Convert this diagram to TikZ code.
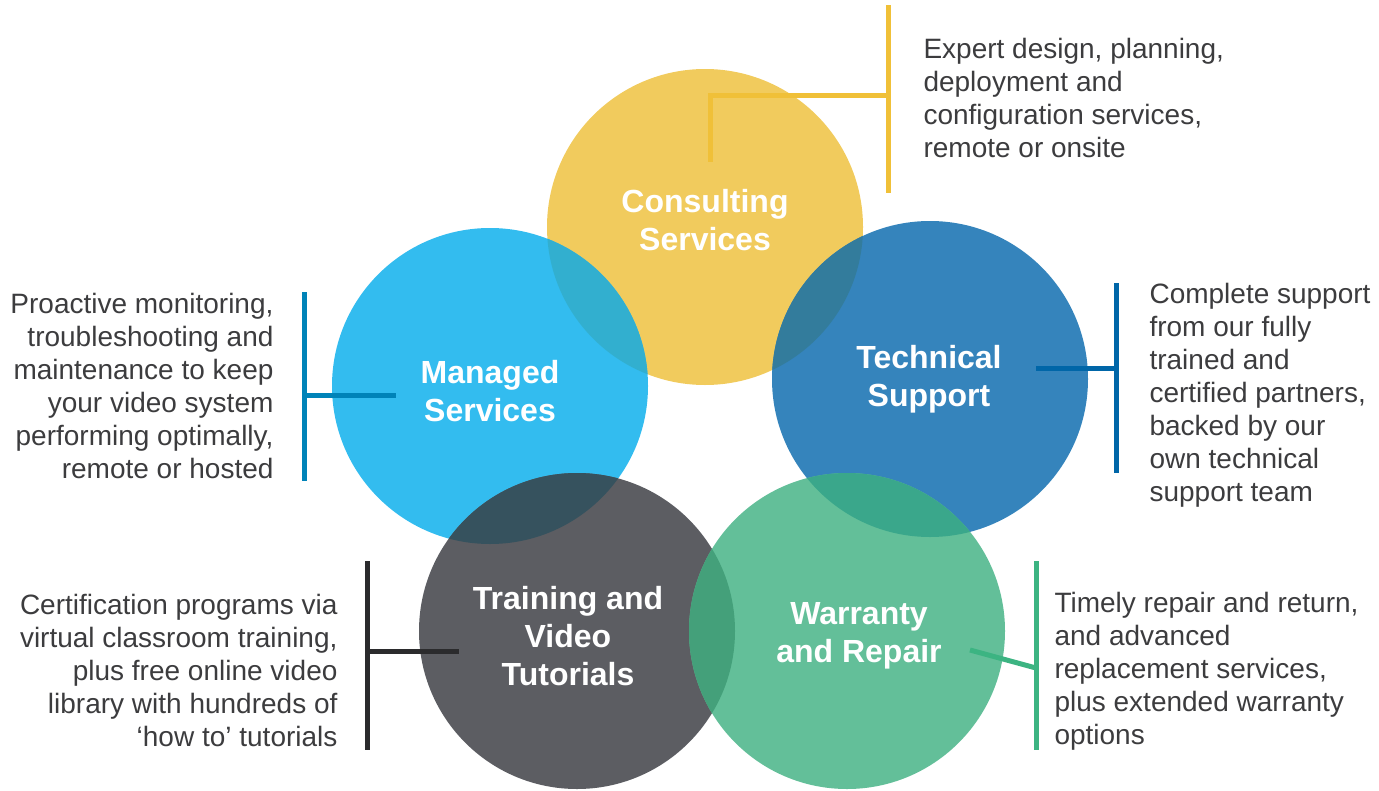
\documentclass[tikz,border=0pt]{standalone}
\usepackage{fontspec}
\setmainfont{Liberation Sans}
\usetikzlibrary{positioning}
\definecolor{consult}{RGB}{241,203,93}
\definecolor{managed}{RGB}{51,188,239}
\definecolor{techsup}{RGB}{53,132,188}
\definecolor{training}{RGB}{92,93,98}
\definecolor{warranty}{RGB}{99,191,153}
\definecolor{consman}{RGB}{50,175,207}
\definecolor{constech}{RGB}{51,124,156}
\definecolor{mantrain}{RGB}{54,82,94}
\definecolor{techwar}{RGB}{58,167,139}
\definecolor{trainwar}{RGB}{68,160,122}
\definecolor{consline}{RGB}{240,192,56}
\definecolor{manline}{RGB}{0,131,184}
\definecolor{techline}{RGB}{0,102,168}
\definecolor{trainline}{RGB}{43,43,45}
\definecolor{warline}{RGB}{60,180,130}
\definecolor{txtgrey}{RGB}{60,60,62}

\begin{document}
\begin{tikzpicture}[x=1pt,y=-1pt,
  ring/.style={circle, minimum size=316pt, inner sep=0pt},
  title/.style={text=white, font=\fontsize{32}{38}\selectfont\bfseries, align=center},
  desc/.style={text=txtgrey, font=\fontsize{28}{33}\selectfont},
  bar/.style={line width=5pt}]

\useasboundingbox (0,0) rectangle (1379,790);

% Circles
  \node[ring, fill=consult] (cons) at (705,227) {};
  \node[ring, fill=managed] (man) at (490,386) {};
  \node[ring, fill=techsup] (tech) at (930,379) {};
  \node[ring, fill=training] (train) at (577,631) {};
  \node[ring, fill=warranty] (war) at (847,631) {};

% Overlaps
  \begin{scope}
    \clip (cons.center) circle (158pt);
    \fill[consman] (man.center) circle (158pt);
    \fill[constech] (tech.center) circle (158pt);
  \end{scope}
  \begin{scope}
    \clip (man.center) circle (158pt);
    \fill[mantrain] (train.center) circle (158pt);
  \end{scope}
  \begin{scope}
    \clip (war.center) circle (158pt);
    \fill[techwar] (tech.center) circle (158pt);
    \fill[trainwar] (train.center) circle (158pt);
  \end{scope}

% Titles
  \node[title] (constitle) at (705,220) {Consulting\\Services};
  \node[title] (mantitle) at (490,391) {Managed\\Services};
  \node[title] (techtitle) at (929,379) {Technical\\Support};
  \node[title] (traintitle) at (568,636) {Training and\\Video\\Tutorials};
  \node[title] (wartitle) at (859,636) {Warranty\\and Repair};

% Consulting bracket
  \coordinate (cons-top) at (888,5);
  \coordinate (cons-bot) at (888,193);
  \coordinate (cons-mid) at (888,95);
  \coordinate (cons-knee) at (710,95);
  \coordinate (cons-end) at (710,162);
  \draw[bar, consline] (cons-top) -- (cons-bot);
  \draw[bar, consline] (cons-mid) -- (cons-knee) -- (cons-end);
  \node[desc, anchor=west, align=left] (consdesc) at (920,98) {Expert design, planning,\\deployment and\\configuration services,\\remote or onsite};

% Managed bracket
  \coordinate (man-top) at (304,292);
  \coordinate (man-bot) at (304,481);
  \coordinate (man-mid) at (304,395);
  \coordinate (man-end) at (396,395);
  \draw[bar, manline] (man-top) -- (man-bot);
  \draw[bar, manline] (man-mid) -- (man-end);
  \node[desc, anchor=east, align=right] (mandesc) at (277,386) {Proactive monitoring,\\troubleshooting and\\maintenance to keep\\your video system\\performing optimally,\\remote or hosted};

% Technical bracket
  \coordinate (tech-top) at (1116,283);
  \coordinate (tech-bot) at (1116,473);
  \coordinate (tech-mid) at (1116,368);
  \coordinate (tech-end) at (1036,368);
  \draw[bar, techline] (tech-top) -- (tech-bot);
  \draw[bar, techline] (tech-mid) -- (tech-end);
  \node[desc, anchor=west, align=left] (techdesc) at (1146,395) {Complete support\\from our fully\\trained and\\certified partners,\\backed by our\\own technical\\support team};

% Training bracket
  \coordinate (train-top) at (367,561);
  \coordinate (train-bot) at (367,750);
  \coordinate (train-mid) at (367,651);
  \coordinate (train-end) at (459,651);
  \draw[bar, trainline] (train-top) -- (train-bot);
  \draw[bar, trainline] (train-mid) -- (train-end);
  \node[desc, anchor=east, align=right] (traindesc) at (341,670) {Certification programs via\\virtual classroom training,\\plus free online video\\library with hundreds of\\‘how to’ tutorials};

% Warranty bracket
  \coordinate (war-top) at (1036,561);
  \coordinate (war-bot) at (1036,750);
  \coordinate (war-mid) at (1036,668);
  \coordinate (war-end) at (970,650);
  \draw[bar, warline] (war-top) -- (war-bot);
  \draw[bar, warline] (war-mid) -- (war-end);
  \node[desc, anchor=west, align=left] (wardesc) at (1051,671) {Timely repair and return,\\and advanced\\replacement services,\\plus extended warranty\\options};

\end{tikzpicture}
\end{document}
